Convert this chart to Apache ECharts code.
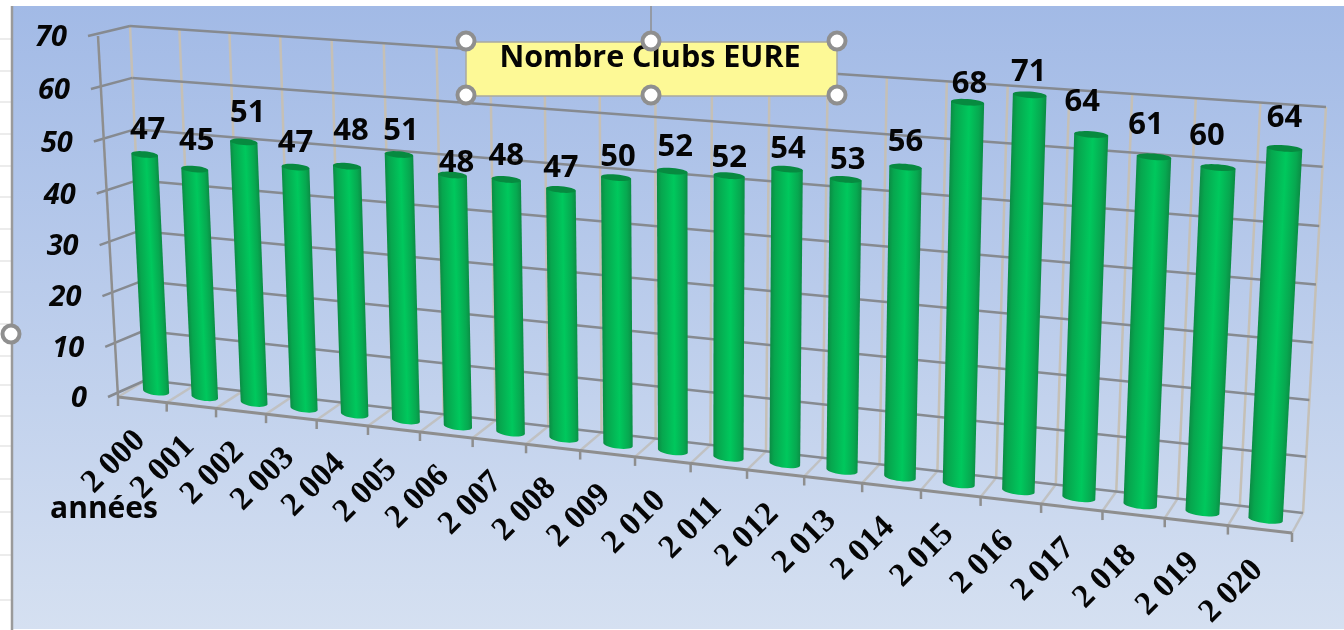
<!DOCTYPE html>
<html>
<head>
<meta charset="utf-8">
<title>Nombre Clubs EURE</title>
<script src="https://cdn.jsdelivr.net/npm/echarts@6/dist/echarts.min.js"></script>
<style>
html, body { margin: 0; padding: 0; background: #fff; }
#chart { width: 1344px; height: 630px; }
</style>
</head>
<body>
<div id="chart"></div>
<script>
var years = ['2 000', '2 001', '2 002', '2 003', '2 004', '2 005', '2 006', '2 007', '2 008', '2 009', '2 010',
	'2 011', '2 012', '2 013', '2 014', '2 015', '2 016', '2 017', '2 018', '2 019', '2 020'];
var clubs = [47, 45, 51, 47, 48, 51, 48, 48, 47, 50, 52, 52, 54, 53, 56, 68, 71, 64, 61, 60, 64];
var yTicks = [0, 10, 20, 30, 40, 50, 60, 70];
var yMax = 70;

// excel placed its labels by hand, so each one gets its own little shift
var labelNudgeX = [3, 2, 4, 0, 4, 2, 4, 0, 0, 2, 3, 0, 1, 2, 0, 2, -1, -9, -8, -11, 0];
var labelNudgeY = [4, 1, 0, 5, -7, 5, 17, 5, 7, 8, 5, 11, 9, 9, 4, 10, 6, -4, -3, -3, -2];

// flat grid, hidden: its pixels are warped onto the two perspective planes below
var gridBox = { left: 100, top: 40, width: 1100, height: 420 };

// corners: u0v0, u1v0, u1v1, u0v1
var backPlane = homography([[146, 380], [1303, 513], [1326, 107], [130, 26]]);
var frontPlane = homography([[118, 397], [1292, 533], [1313, 119], [98, 36]]);
var barDepth = 0.5;
var barShare = 0.54;

function homography(c) {
	var dx1 = c[1][0] - c[2][0], dx2 = c[3][0] - c[2][0], sx = c[0][0] - c[1][0] + c[2][0] - c[3][0];
	var dy1 = c[1][1] - c[2][1], dy2 = c[3][1] - c[2][1], sy = c[0][1] - c[1][1] + c[2][1] - c[3][1];
	var det = dx1 * dy2 - dx2 * dy1;
	var g = (sx * dy2 - dx2 * sy) / det;
	var h = (dx1 * sy - sx * dy1) / det;
	var a = c[1][0] - c[0][0] + g * c[1][0], b = c[3][0] - c[0][0] + h * c[3][0];
	var d = c[1][1] - c[0][1] + g * c[1][1], e = c[3][1] - c[0][1] + h * c[3][1];
	return function (u, v) {
		var n = g * u + h * v + 1;
		return [(a * u + b * v + c[0][0]) / n, (d * u + e * v + c[0][1]) / n];
	};
}

// category index + band shift, value, depth (0 front, 1 back) -> screen pixel
function project(api, i, shift, value, depth) {
	var p = api.coord([i, Math.min(value, yMax)]);
	var band = api.size([1, 0])[0];
	var u = (p[0] + shift * band - gridBox.left) / gridBox.width;
	var v = (gridBox.top + gridBox.height - p[1]) / gridBox.height;
	var f = frontPlane(u, v), b = backPlane(u, v);
	return [f[0] + (b[0] - f[0]) * depth, f[1] + (b[1] - f[1]) * depth];
}

function seg(a, b, color, width) {
	return {
		type: 'line',
		shape: { x1: a[0], y1: a[1], x2: b[0], y2: b[1] },
		style: { stroke: color, lineWidth: width }
	};
}

function renderFrame(params, api) {
	var kids = [];
	var wallV = '#c5c0b6', wallH = '#868a90', floorC = '#c0c1c2', axisC = '#8e8e8e';
	var i, u0;
	// back wall verticals + floor lines
	for (i = 0; i <= years.length; i++) {
		var ci = Math.min(i, years.length - 1), sh = i === years.length ? 0.5 : -0.5;
		kids.push(seg(project(api, ci, sh, 0, 1), project(api, ci, sh, yMax, 1), wallV, 2.5));
		kids.push(seg(project(api, ci, sh, 0, 0), project(api, ci, sh, 0, 1), floorC, 2.5));
	}
	// horizontals on the back wall and left wall
	yTicks.forEach(function (t) {
		var lf = project(api, 0, -0.5, t, 0), lb = project(api, 0, -0.5, t, 1);
		var rb = project(api, years.length - 1, 0.5, t, 1);
		kids.push(seg(lb, rb, wallH, 2.5));
		kids.push(seg([lf[0] - 10, lf[1]], lb, wallH, 2.5));
		kids.push({
			type: 'text',
			style: {
				text: String(t), x: lf[0] - 31, y: lf[1] + 2, align: 'right', verticalAlign: 'middle',
				font: 'italic bold 29px "Open Sans"', fill: '#050505'
			}
		});
	});
	// left axis
	kids.push(seg(project(api, 0, -0.5, 0, 0), project(api, 0, -0.5, yMax, 0), axisC, 2.5));
	// front floor edge with its ticks
	kids.push(seg(project(api, 0, -0.5, 0, 0), project(api, years.length - 1, 0.5, 0, 0), axisC, 3));
	for (i = 0; i <= years.length; i++) {
		u0 = project(api, Math.min(i, years.length - 1), i === years.length ? 0.5 : -0.5, 0, 0);
		kids.push(seg(u0, [u0[0], u0[1] + 9], axisC, 2.5));
	}
	// year labels
	years.forEach(function (y, k) {
		var m = project(api, k, 0, 0, 0);
		kids.push({
			type: 'text', x: m[0] - 2, y: m[1] + 36, rotation: Math.PI / 4,
			style: {
				text: y, align: 'right', verticalAlign: 'middle',
				font: 'bold 33px "Liberation Serif"', fill: '#050505'
			}
		});
	});
	return { type: 'group', silent: true, children: kids };
}

function renderBar(params, api) {
	var i = api.value(0), val = api.value(1), half = barShare / 2;
	var bl = project(api, i, -half, 0, barDepth), br = project(api, i, half, 0, barDepth);
	var tl = project(api, i, -half, val, barDepth), tr = project(api, i, half, val, barDepth);
	var topDrop = 1.5;
	tl = [tl[0], tl[1] + topDrop];
	tr = [tr[0], tr[1] + topDrop];
	var ry = 4, capRy = 3.2, pts = [tl, tr], n = 16, k, t;
	for (k = 0; k <= n; k++) {
		t = Math.PI * k / n;
		pts.push([(bl[0] + br[0]) / 2 + Math.cos(t) * (br[0] - bl[0]) / 2,
			(bl[1] + br[1]) / 2 + Math.cos(t) * (br[1] - bl[1]) / 2 + Math.sin(t) * ry]);
	}
	var cap = [];
	for (k = 0; k < 2 * n; k++) {
		t = Math.PI * k / n;
		cap.push([(tl[0] + tr[0]) / 2 + Math.cos(t) * (tr[0] - tl[0]) / 2,
			(tl[1] + tr[1]) / 2 + Math.cos(t) * (tr[1] - tl[1]) / 2 + Math.sin(t) * capRy]);
	}
	// gradient runs square to the leaning bar
	var ax = tl[0] - bl[0], ay = tl[1] - bl[1], len = Math.sqrt(ax * ax + ay * ay);
	var nx = -ay / len, ny = ax / len;
	if (nx < 0) { nx = -nx; ny = -ny; }
	var wid = Math.abs((tr[0] - tl[0]) * nx + (tr[1] - tl[1]) * ny);
	var body = {
		type: 'linear', global: true,
		x: tl[0], y: tl[1], x2: tl[0] + nx * wid, y2: tl[1] + ny * wid,
		colorStops: [
			{ offset: 0, color: '#0b8c44' }, { offset: 0.14, color: '#07a64e' },
			{ offset: 0.55, color: '#00c85d' }, { offset: 0.85, color: '#07a850' },
			{ offset: 1, color: '#0b8c44' }
		]
	};
	return {
		type: 'group', silent: true, children: [
			{ type: 'polygon', shape: { points: pts }, style: { fill: body } },
			{ type: 'polygon', shape: { points: cap }, style: { fill: '#078a40' } }
		]
	};
}

function renderLabel(params, api) {
	var i = api.value(0), val = api.value(1);
	var top = project(api, i, 0, val, barDepth);
	return {
		type: 'text', silent: true,
		style: {
			text: String(val), x: top[0] + labelNudgeX[i], y: top[1] - 27 + labelNudgeY[i],
			align: 'center', verticalAlign: 'middle',
			font: 'bold 31px "Open Sans"', fill: '#050505'
		}
	};
}

function handle(x, y) {
	return {
		type: 'circle', z: 20, silent: true, shape: { cx: x, cy: y, r: 8.5 },
		style: { fill: '#fff', stroke: '#8f8f8f', lineWidth: 4 }
	};
}

var decor = [
	{
		type: 'rect', z: -5, silent: true, shape: { x: 12, y: 6, width: 1332, height: 623 },
		style: {
			fill: {
				type: 'linear', x: 0, y: 0, x2: 0, y2: 1,
				colorStops: [{ offset: 0, color: '#a2bae6' }, { offset: 1, color: '#d5e0f1' }]
			}
		}
	},
	{ type: 'line', z: 15, silent: true, shape: { x1: 12, y1: 6, x2: 12, y2: 630 }, style: { stroke: '#9a9a9a', lineWidth: 2.5 } },
	{ type: 'line', z: 5, silent: true, shape: { x1: 651, y1: 6, x2: 651, y2: 41 }, style: { stroke: '#8f8f8f', lineWidth: 1.5 } },
	{
		type: 'rect', z: 5, silent: true, shape: { x: 466, y: 42, width: 371, height: 54 },
		style: { fill: '#fdf996', stroke: '#a9a9a0', lineWidth: 1.5 }
	},
	{
		type: 'text', z: 15, silent: true,
		style: { text: 'années', x: 104, y: 509, align: 'center', verticalAlign: 'middle', font: 'bold 30px "Open Sans"', fill: '#050505' }
	},
	handle(466, 41), handle(651, 41), handle(837, 41),
	handle(466, 95), handle(651, 95), handle(837, 95), handle(11, 334)
];
// the spreadsheet row lines showing at the far left
var rowLines = [39, 71, 102, 134, 166, 197, 229, 261, 292, 324, 356, 385, 416, 446, 479, 512, 555, 600];
rowLines.forEach(function (y) {
	decor.push({
		type: 'line', z: -4, silent: true,
		shape: { x1: 0, y1: y, x2: 11, y2: y },
		style: { stroke: '#d9d9d9', lineWidth: 1 }
	});
});

var myChart = echarts.init(document.getElementById('chart'), null, { renderer: 'canvas' });
var option = {
	animation: false,
	backgroundColor: '#fff',
	title: {
		text: 'Nombre Clubs EURE', left: 645, top: 53, textAlign: 'center', textVerticalAlign: 'middle', z: 12,
		textStyle: { fontFamily: 'Open Sans', fontWeight: 'bold', fontSize: 30.5, color: '#050505' }
	},
	grid: gridBox,
	xAxis: { type: 'category', data: years, show: false },
	yAxis: { type: 'value', min: 0, max: yMax, interval: 10, show: false },
	graphic: { elements: decor },
	series: [
		{ name: 'frame', type: 'custom', z: 1, clip: false, silent: true, data: [[0, 0]], renderItem: renderFrame },
		{
			name: 'Nombre Clubs', type: 'custom', z: 2, clip: false, silent: true,
			data: clubs.map(function (v, i) { return [i, v]; }),
			encode: { x: 0, y: 1 }, renderItem: renderBar
		},
		{
			name: 'labels', type: 'custom', z: 3, clip: false, silent: true,
			data: clubs.map(function (v, i) { return [i, v]; }),
			encode: { x: 0, y: 1 }, renderItem: renderLabel
		}
	]
};
myChart.setOption(option);
</script>
</body>
</html>
